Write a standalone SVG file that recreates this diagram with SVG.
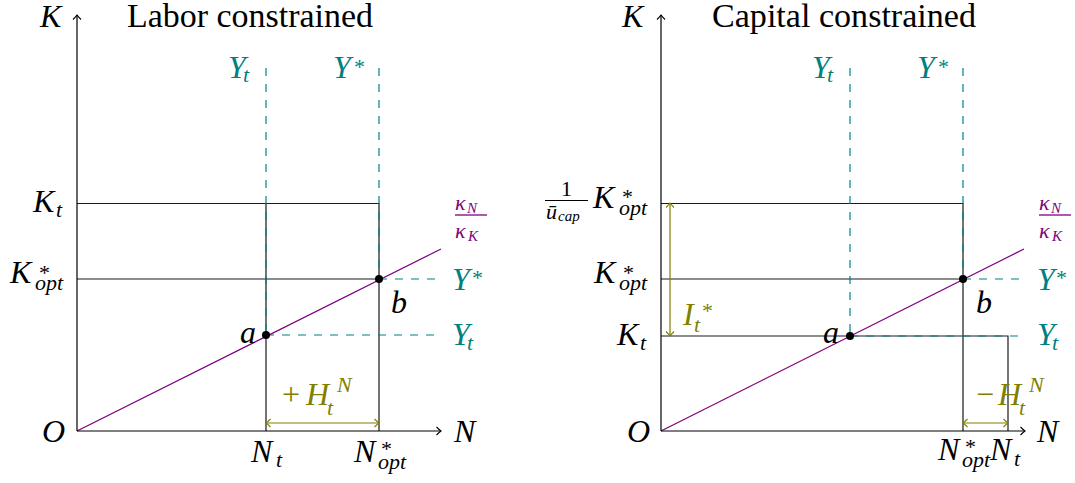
<svg xmlns="http://www.w3.org/2000/svg" width="1075" height="483" viewBox="0 0 1075 483" font-family="'Liberation Serif', 'Times New Roman', 'DejaVu Serif', serif">
<style>
.m{font-style:italic;font-size:32px;fill:#000;}
.s{font-size:22px;}
.ss{font-size:15px;}
.r{font-style:normal;}
.up{font-size:33px;fill:#000;}
.teal{fill:#008080;}
.vio{fill:#800080;}
.olv{fill:#808000;}
.ax{stroke:#000;stroke-width:1.2;fill:none;marker-end:url(#ak);}
.bl{stroke:#1a1a1a;stroke-width:1.2;fill:none;}
.dt{stroke:#008080;stroke-width:1.2;fill:none;stroke-dasharray:8 8;}
.pl{stroke:#800080;stroke-width:1.2;fill:none;}
.oa{stroke:#808000;stroke-width:1.2;fill:none;marker-start:url(#ao);marker-end:url(#ao);}
</style>
<defs>
<marker id="ak" viewBox="-6 -5 7 10" refX="0" refY="0" markerWidth="7" markerHeight="10" orient="auto-start-reverse" markerUnits="userSpaceOnUse"><path d="M-4.5,-4 Q-1.5,-1 0,0 Q-1.5,1 -4.5,4" fill="none" stroke="#000" stroke-width="1.1"/></marker>
<marker id="ao" viewBox="-6 -5 7 10" refX="0" refY="0" markerWidth="7" markerHeight="10" orient="auto-start-reverse" markerUnits="userSpaceOnUse"><path d="M-4.5,-4 Q-1.5,-1 0,0 Q-1.5,1 -4.5,4" fill="none" stroke="#808000" stroke-width="1.1"/></marker>
</defs>

<g id="connectors">
  <path class="bl" d="M77 203.5 H379 M77 279 H379 M266 203 V431 M379 203 V431"/>
  <path class="dt" d="M266 68 V335 M379 68 V279 M379 279 H441 M266 335 H441"/>
  <path class="pl" d="M77 431 L441 249"/>
  <path class="ax" d="M77 431 V15"/>
  <path class="ax" d="M77 431 H441"/>
  <path class="oa" d="M266 423 H379"/>
  <path class="bl" d="M661 203.5 H963 M661 279 H963 M963 203 V431 M661 336 H1008 V431"/>
  <path class="dt" d="M850 68 V336 M963 68 V279 M963 279 H1025 M850 336 H1025"/>
  <path class="pl" d="M661 431 L1024 249"/>
  <path class="ax" d="M661 431 V15"/>
  <path class="ax" d="M661 431 H1025"/>
  <path class="oa" d="M670 203 V336"/>
  <path class="oa" d="M963 423 H1008"/>
</g>

<g id="left-panel">
  <g id="L-title"><text class="up" x="127" y="27" textLength="246" lengthAdjust="spacingAndGlyphs">Labor constrained</text></g>
  <g id="L-K"><text class="m" x="40" y="27">K</text></g>
  <g id="L-N"><text class="m" x="454" y="442">N</text></g>
  <g id="L-O"><text class="m" x="42" y="442">O</text></g>
  <g id="L-Yt-top"><text class="m teal" x="228" y="78">Y<tspan class="s" x="243" y="82">t</tspan></text></g>
  <g id="L-Ystar-top"><text class="m teal" x="333" y="78">Y<tspan class="s r" x="354" y="74">*</tspan></text></g>
  <g id="L-Kt"><text class="m" x="33" y="212">K<tspan class="s" x="56" y="217">t</tspan></text></g>
  <g id="L-Kopt"><text class="m" x="10" y="283">K<tspan class="s r" x="39" y="280">*</tspan><tspan class="s" x="35" y="290">opt</tspan></text></g>
  <g id="L-kappa"><text class="m s vio" x="455" y="210">κ<tspan class="ss" x="467" y="213">N</tspan><tspan x="455" y="238">κ</tspan><tspan class="ss" x="468" y="241">K</tspan></text><path d="M455 215 H487" stroke="#800080" stroke-width="1.3"/></g>
  <g id="L-Ystar-right"><text class="m teal" x="452" y="290">Y<tspan class="s r" x="472" y="285">*</tspan></text></g>
  <g id="L-Yt-right"><text class="m teal" x="452" y="345">Y<tspan class="s" x="467" y="350">t</tspan></text></g>
  <g id="L-a"><circle cx="266" cy="335" r="4"/><text class="m" x="240" y="343">a</text></g>
  <g id="L-b"><circle cx="379" cy="279" r="4"/><text class="m" x="391" y="313">b</text></g>
  <g id="L-H"><text class="m olv" x="282" y="405"><tspan class="r">+</tspan><tspan x="306" y="405">H</tspan><tspan class="s" x="337" y="392">N</tspan><tspan class="s" x="327" y="415">t</tspan></text></g>
  <g id="L-Nt"><text class="m" x="251" y="462">N<tspan class="s" x="276" y="467">t</tspan></text></g>
  <g id="L-Nopt"><text class="m" x="354" y="462">N<tspan class="s r" x="381" y="456">*</tspan><tspan class="s" x="378" y="469">opt</tspan></text></g>
</g>

<g id="right-panel">
  <g id="R-title"><text class="up" x="712" y="27" textLength="264" lengthAdjust="spacingAndGlyphs">Capital constrained</text></g>
  <g id="R-K"><text class="m" x="622" y="27">K</text></g>
  <g id="R-N"><text class="m" x="1037" y="442">N</text></g>
  <g id="R-O"><text class="m" x="627" y="442">O</text></g>
  <g id="R-Yt-top"><text class="m teal" x="812" y="78">Y<tspan class="s" x="827" y="82">t</tspan></text></g>
  <g id="R-Ystar-top"><text class="m teal" x="917" y="78">Y<tspan class="s r" x="938" y="74">*</tspan></text></g>
  <g id="R-Kcap"><text class="m" x="561" y="196"><tspan class="s r">1</tspan><tspan class="s" x="546" y="219">ū</tspan><tspan class="ss" x="558" y="221">cap</tspan><tspan x="593" y="208">K</tspan><tspan class="s r" x="622" y="204">*</tspan><tspan class="s" x="619" y="215">opt</tspan></text><path d="M545 200.5 H588" stroke="#000" stroke-width="1.2"/></g>
  <g id="R-Kopt"><text class="m" x="594" y="283">K<tspan class="s r" x="623" y="280">*</tspan><tspan class="s" x="619" y="290">opt</tspan></text></g>
  <g id="R-Kt"><text class="m" x="617" y="345">K<tspan class="s" x="640" y="350">t</tspan></text></g>
  <g id="R-kappa"><text class="m s vio" x="1039" y="210">κ<tspan class="ss" x="1051" y="213">N</tspan><tspan x="1039" y="238">κ</tspan><tspan class="ss" x="1052" y="241">K</tspan></text><path d="M1039 215 H1071" stroke="#800080" stroke-width="1.3"/></g>
  <g id="R-Ystar-right"><text class="m teal" x="1037" y="290">Y<tspan class="s r" x="1056" y="285">*</tspan></text></g>
  <g id="R-Yt-right"><text class="m teal" x="1037" y="345">Y<tspan class="s" x="1052" y="350">t</tspan></text></g>
  <g id="R-a"><circle cx="850" cy="336" r="4"/><text class="m" x="823" y="343">a</text></g>
  <g id="R-b"><circle cx="963" cy="279" r="4"/><text class="m" x="976" y="313">b</text></g>
  <g id="R-I"><text class="m olv" x="683" y="325">I<tspan class="s r" x="702" y="318">*</tspan><tspan class="s" x="694" y="332">t</tspan></text></g>
  <g id="R-H"><text class="m olv" x="976" y="405"><tspan class="r">−</tspan><tspan x="998" y="405">H</tspan><tspan class="s" x="1029" y="392">N</tspan><tspan class="s" x="1019" y="415">t</tspan></text></g>
  <g id="R-Nopt"><text class="m" x="938" y="460">N<tspan class="s r" x="965" y="454">*</tspan><tspan class="s" x="962" y="467">opt</tspan></text></g>
  <g id="R-Nt"><text class="m" x="990" y="460">N<tspan class="s" x="1014" y="466">t</tspan></text></g>
</g>
</svg>
